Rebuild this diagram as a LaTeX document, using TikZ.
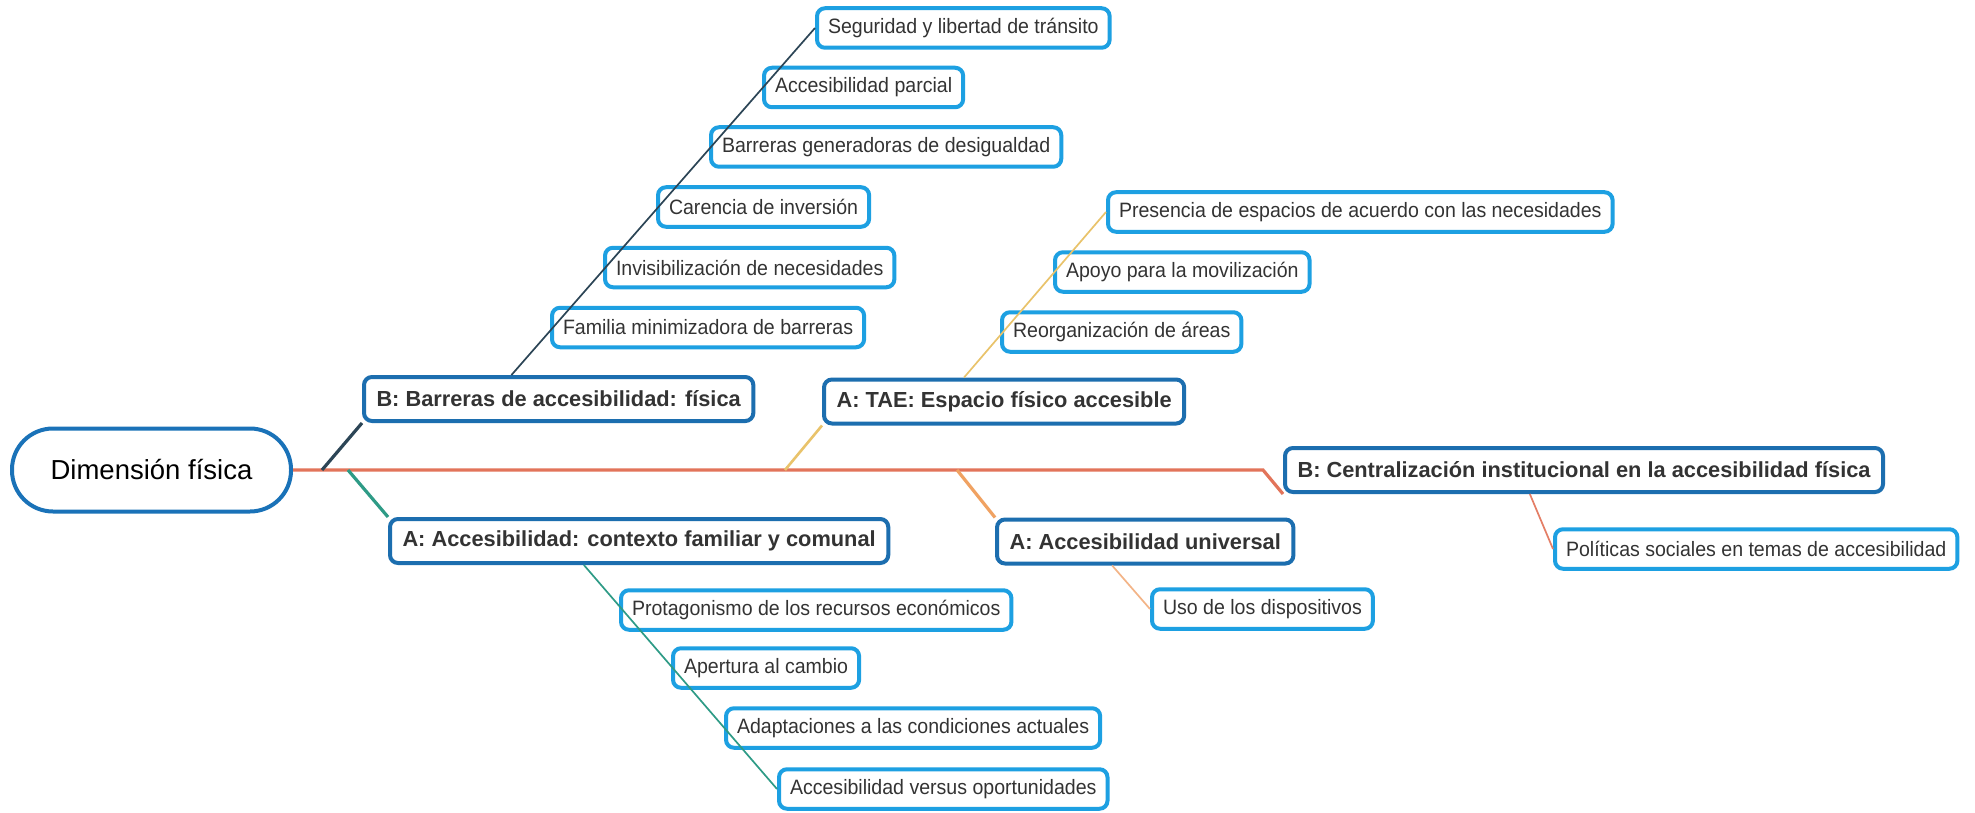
\documentclass[tikz,border=0pt]{standalone}
\usepackage{fontspec}
\setmainfont{Liberation Sans}
\newfontfamily\subfamily{Liberation Sans}[FakeStretch=0.94]
\usetikzlibrary{calc}

\definecolor{rootblue}{HTML}{1A72B8}
\definecolor{topicblue}{HTML}{1C6EAF}
\definecolor{subblue}{HTML}{1DA0E2}
\definecolor{txtgray}{HTML}{333333}
\definecolor{spine}{HTML}{E2745A}
\definecolor{brslate}{HTML}{2C4556}
\definecolor{brteal}{HTML}{2E9B86}
\definecolor{brgold}{HTML}{E9C36B}
\definecolor{brorange}{HTML}{F0A262}
\definecolor{brpeach}{HTML}{F3B487}
\definecolor{brsalmon}{HTML}{E47E66}

\begin{document}
\begin{tikzpicture}[x=1pt,y=-1pt,
  rootnode/.style={draw=rootblue, line width=4pt, rounded corners=41pt, fill=white,
    minimum width=279pt, minimum height=83pt, inner sep=0pt,
    font=\fontsize{27.5}{32}\selectfont, text=black},
  topic/.style={draw=topicblue, line width=4pt, rounded corners=8pt, fill=white,
    anchor=west, minimum height=44pt, inner xsep=12.5pt, inner ysep=0pt,
    font=\fontsize{21.8}{26}\selectfont\bfseries, text=txtgray},
  subtopic/.style={draw=subblue, line width=4pt, rounded corners=8pt, fill=white,
    anchor=west, minimum height=39.5pt, inner xsep=11pt, inner ysep=0pt,
    font=\subfamily\fontsize{20.8}{25}\selectfont, text=txtgray},
  mainline/.style={line width=3.2pt},
  subline/.style={line width=1.7pt}
]
\useasboundingbox (0,0) rectangle (1975,813);
\fill[white] (0,0) rectangle (1975,813);

% central topic
\node[rootnode] (root) at (151.5,470) {Dimensión física};

% main topics
\node[topic] (barr) at (362,399)   {B: Barreras de accesibilidad: física};
\node[topic] (tae)  at (822,401.5) {A: TAE: Espacio físico accesible};
\node[topic] (ctx)  at (388,541)   {A: Accesibilidad: contexto familiar y comunal};
\node[topic] (univ) at (995,541.5) {A: Accesibilidad universal};
\node[topic] (cent) at (1283,470)  {B: Centralización institucional en la accesibilidad física};

% subtopics of "Barreras de accesibilidad"
\node[subtopic] (b1) at (815,28)    {Seguridad y libertad de tránsito};
\node[subtopic] (b2) at (762,87.5)  {Accesibilidad parcial};
\node[subtopic] (b3) at (709,147)   {Barreras generadoras de desigualdad};
\node[subtopic] (b4) at (656,207)   {Carencia de inversión};
\node[subtopic] (b5) at (603,267.5) {Invisibilización de necesidades};
\node[subtopic] (b6) at (550,327.5) {Familia minimizadora de barreras};

% subtopics of "Espacio físico accesible"
\node[subtopic] (t1) at (1106,212) {Presencia de espacios de acuerdo con las necesidades};
\node[subtopic] (t2) at (1053,272) {Apoyo para la movilización};
\node[subtopic] (t3) at (1000,332) {Reorganización de áreas};

% subtopics of "contexto familiar y comunal"
\node[subtopic] (c1) at (619,610) {Protagonismo de los recursos económicos};
\node[subtopic] (c2) at (671,668) {Apertura al cambio};
\node[subtopic] (c3) at (724,728) {Adaptaciones a las condiciones actuales};
\node[subtopic] (c4) at (777,789) {Accesibilidad versus oportunidades};

% subtopic of "Accesibilidad universal"
\node[subtopic] (u1) at (1150,609) {Uso de los dispositivos};

% subtopic of "Centralización institucional"
\node[subtopic] (p1) at (1553,549) {Políticas sociales en temas de accesibilidad};

% junctions on the spine
\coordinate (jbarr) at (322,470);
\coordinate (jctx)  at (348,470);
\coordinate (jtae)  at (785,470);
\coordinate (juniv) at (957,470);
\coordinate (bend)  at (1263,470);

% spine
\draw[spine, mainline] (root.east) -- (bend) -- (cent.south west);

% branches from the spine
\draw[brslate, mainline] (jbarr) -- (barr.south west);
\draw[brteal, mainline]  (jctx)  -- (ctx.north west);
\draw[brgold, line width=2.6pt] (jtae) -- (tae.south west);
\draw[brorange, mainline] (juniv) -- (univ.north west);

% subtopic lines
\draw[brslate, subline] ($(barr.north west)!0.38!(barr.north east)$) -- (b1.west);
\draw[brgold, subline]  ($(tae.north west)!0.39!(tae.north east)$)   -- (t1.west);
\draw[brteal, subline]  ($(ctx.south west)!0.39!(ctx.south east)$)   -- (c4.west);
\draw[brpeach, subline] ($(univ.south west)!0.39!(univ.south east)$) -- (u1.west);
\draw[brsalmon, subline] ($(cent.south west)!0.41!(cent.south east)$) -- (p1.west);
\end{tikzpicture}
\end{document}
